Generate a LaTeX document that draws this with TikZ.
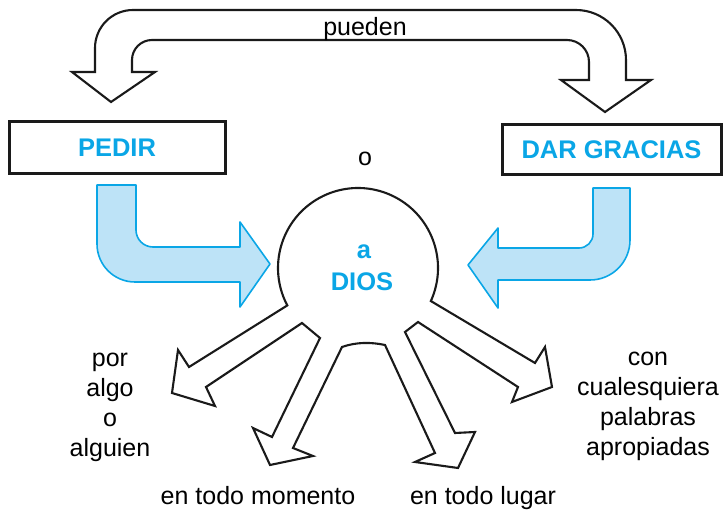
\documentclass[tikz,border=0pt]{standalone}
\usepackage{fontspec}
\setmainfont{Liberation Sans}
\usetikzlibrary{calc}
\definecolor{ink}{HTML}{1A1A1A}
\definecolor{sky}{HTML}{0AA6E6}
\definecolor{skywash}{HTML}{BDE3F7}
\tikzset{word/.style={font=\fontsize{25}{30}\selectfont,align=center,inner sep=0pt},
 key/.style={word,font=\fontsize{25.5}{30}\selectfont\bfseries,text=sky},
 hollow/.style={draw=ink,line width=2.1pt,fill=white,line join=miter},
 bluearr/.style={draw=sky,line width=1.6pt,fill=skywash,line join=round},
 frame/.style={draw=ink,line width=3pt}}
\begin{document}
\begin{tikzpicture}[x=1pt,y=1pt]
\useasboundingbox (0,0) rectangle (724,515);
\draw[hollow] (95,443)--(95,467) arc[start angle=180,end angle=90,radius=38]--(576,505) arc[start angle=90,end angle=0,radius=50]--(626,435)--(651,435)--(605,403)--(561,435)--(589,435)--(589,453) arc[start angle=0,end angle=90,radius=22]--(152,475) arc[start angle=90,end angle=180,radius=20]--(132,443)--(155,443)--(111,413)--(72,443)--cycle;
\node[word,anchor=base](pueden) at (365,479){pueden};
\node[key,frame,minimum width=216pt,minimum height=52pt](pedir) at (117,367){PEDIR};
\node[key,frame,minimum width=219pt,minimum height=50pt](gracias) at (611.5,365){DAR GRACIAS};
\node[word,anchor=base](o) at (365,349){o};
\draw[bluearr] (97,330)--(97,271) arc[start angle=180,end angle=270,radius=38]--(240,233)--(240,208)--(270,251)--(240,293)--(240,268)--(153,268) arc[start angle=270,end angle=180,radius=17]--(136,330)--cycle;
\draw[bluearr] (630,327)--(630,275) arc[start angle=0,end angle=-90,radius=40]--(498,235)--(498,207)--(468,250)--(498,287)--(498,267)--(579,267) arc[start angle=270,end angle=360,radius=14]--(593,327)--cycle;
\draw[hollow] (358,247) ++(-24.4:80) arc[start angle=-24.4,end angle=207.9,radius=80]--(189,148)--(178,165)--(172,122)--(215,109)--(206,128)--(302,192)--(320,177)--(272,78)--(253,87)--(270,50)--(313,59)--(293,67)--(342,168) .. controls (356,173) and (371,173) .. (385,170)--(435,62)--(415,53)--(458,47)--(475,83)--(455,82)--(405,183)--(418,193)--(518,128)--(512,113)--(552,128)--(545,168)--(535,152)--cycle;
\node[key,anchor=base](a) at (364,256){a};
\node[key,anchor=base](dios) at (362,224){DIOS};
\node[word](por) at (110,108){por\\algo\\o\\alguien};
\node[word](con) at (648,109){con\\cualesquiera\\palabras\\apropiadas};
\node[word,anchor=base](momento) at (258,11){en todo momento};
\node[word,anchor=base](lugar) at (483,11){en todo lugar};
\end{tikzpicture}
\end{document}
